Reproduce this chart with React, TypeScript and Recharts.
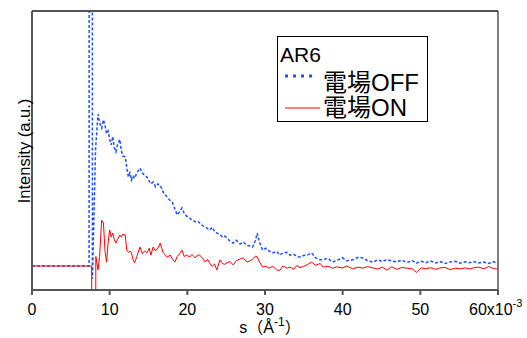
import { LineChart, Line, XAxis, YAxis, ReferenceLine, Legend } from 'recharts';

// s values (x10^-3 Å^-1), shared by both traces
const sValues = [
  0, 7.35, 7.4, 7.68, 7.72, 7.78, 8.18, 8.22,
  8.5, 8.7, 8.97, 9.2, 9.4, 9.6, 9.8, 10.0, 10.2, 10.4, 10.6, 10.8,
  11.0, 11.3, 11.5, 11.7, 12.0, 12.2, 12.4, 12.6, 12.8, 13.0,
  13.2, 13.5, 13.9, 14.2, 14.5, 14.8, 15.1, 15.3, 15.6, 15.9,
  16.2, 16.5, 16.9, 17.2, 17.4, 17.8, 18.1, 18.4, 18.7, 19.0,
  19.3, 19.6, 19.9, 20.3, 20.6, 21.0, 21.3, 21.6, 22.0, 22.3,
  22.6, 22.9, 23.2, 23.5, 23.8, 24.2, 24.5, 24.8, 25.1, 25.5,
  25.9, 26.3, 26.8, 27.2, 27.7, 28.1, 28.4, 28.8, 29.0, 29.3,
  29.7, 30.1, 30.5, 31.0, 31.5, 31.9, 32.3, 32.8, 33.2, 33.7,
  34.1, 34.5, 35.0, 35.5, 36.0, 36.5, 37.1, 37.5, 38.1, 38.7,
  39.2, 40.0, 40.5, 41.3, 42.0, 42.6, 43.2, 43.9, 44.5, 45.1,
  45.7, 46.3, 47.0, 47.6, 48.3, 49.0, 49.5, 50.1, 50.7, 51.3,
  52.0, 52.5, 53.2, 53.8, 54.5, 55.1, 55.8, 56.4, 56.8, 57.5,
  58.2, 58.8, 59.4, 60.0,
];

// 電場OFF trace (arbitrary units)
const offValues = [
  8.6, 8.6, 400, 400, 400, 4, 50, 52,
  63, 60, 58, 61, 59, 56, 57, 54, 52, 55, 51, 49.5,
  52, 54, 50, 48, 47.7, 44, 40.5, 42, 39.4, 41,
  40, 42, 43.7, 42, 41, 40.5, 39, 38, 38.7, 37,
  38, 37.6, 35, 34, 33.3, 32, 31.2, 29, 26.9, 28,
  29.4, 27.5, 26.5, 25.8, 25, 24.5, 24.7, 24, 23, 22.6,
  22, 21.5, 22.5, 21, 20.4, 20, 19, 19.3, 18.6, 17.5,
  16.8, 17.8, 16.5, 17.2, 16, 15.8, 15.4, 18, 20.4, 17,
  14.3, 15, 14, 13.3, 13.8, 12.5, 13.3, 13.5, 12.5, 12.8,
  12, 11.8, 12.4, 12.6, 13.3, 11.6, 10.8, 11, 11.3, 10,
  10.6, 11.5, 10.5, 10.8, 11.7, 11.5, 10.5, 10, 10.8, 10.2,
  10.9, 10.4, 10.1, 10.7, 9.9, 10.5, 9.6, 10.3, 9.8, 10.4,
  9.7, 10.2, 9.5, 10.0, 10.3, 9.6, 10.1, 9.8, 10.2, 9.7,
  10.0, 9.5, 10.1, 9.8,
];

// 電場ON trace (arbitrary units)
const onValues = [
  8.6, 8.6, 8.6, 8.6, -30, -30, -30, 12,
  7.2, 12, 25, 24, 14, 10, 17, 21.5, 19, 20.4, 18, 16.8,
  18, 19.7, 19, 20, 19.7, 14.3, 13.5, 14, 13.3, 11,
  9.7, 12, 15.4, 13, 14, 13.3, 15, 12.5, 15.4, 14,
  15, 16.8, 13.3, 12.5, 11.8, 12.5, 11, 10, 12, 13,
  14.3, 12, 12.5, 11.8, 12.8, 11.5, 12.5, 12.5, 11.2, 10,
  11, 9.5, 8.5, 9.3, 7.2, 10.8, 9.5, 9.2, 9.7, 10.2,
  9.0, 10.5, 11.1, 11.5, 10, 10.5, 11, 12.2, 11.8, 10,
  8.2, 8.5, 7.8, 8.5, 7.2, 7.0, 8.6, 7.8, 8.2, 7.5,
  8.8, 8, 8.5, 9.2, 10, 8.8, 9.5, 8.2, 8.5, 7.8,
  8.3, 7.9, 8.6, 7.6, 8.2, 7.8, 8.4, 7.9, 7.5, 8.2,
  7.1, 8.3, 7.4, 8.1, 7.8, 7.5, 6.3, 7.9, 7.6, 8.0,
  7.4, 7.9, 8.1, 7.3, 7.8, 7.6, 7.9, 7.5, 7.9, 8.2,
  7.6, 8.4, 7.7, 7.5,
];

const xTicks = [0, 10, 20, 30, 40, 50, 60];
const legendTitle = 'AR6';
const offName = '電場OFF';
const onName = '電場ON';

const data = sValues.map((s, i) => ({ s, off: offValues[i], on: onValues[i] }));

const FONT = '"Liberation Sans", "Noto Sans CJK JP", Arial, sans-serif';
const BLUE = '#1f4fff';
const RED = '#ff0000';
const AXIS = '#555';

function XTick(props: any) {
  const { x, y, payload } = props;
  const v = payload.value;
  if (v === 60) {
    // last label carries the x10^-3 multiplier
    return (
      <text x={x - 29} y={y + 20} textAnchor="start" fontSize={16} fontFamily={FONT} fill="#000">
        <tspan>60x10</tspan>
        <tspan dy={-8} fontSize={11}>-3</tspan>
      </text>
    );
  }
  return (
    <text x={x} y={y + 20} textAnchor="middle" fontSize={16} fontFamily={FONT} fill="#000">
      {v}
    </text>
  );
}

function LegendBox() {
  return (
    <svg width={151} height={86} style={{ display: 'block' }}>
      <rect x={0.5} y={0.5} width={150} height={85} fill="#fff" stroke="#000" strokeWidth={1} />
      <text x={3} y={26} fontSize={21} fontFamily={FONT} fill="#000">{legendTitle}</text>
      <line x1={8} y1={40} x2={40} y2={40} stroke={BLUE} strokeWidth={3} strokeDasharray="3 5" />
      <text x={46} y={55} fontSize={24} fontFamily={FONT} fill="#000">{offName}</text>
      <line x1={8} y1={72} x2={43} y2={72} stroke={RED} strokeWidth={1} />
      <text x={46} y={80} fontSize={24} fontFamily={FONT} fill="#000">{onName}</text>
    </svg>
  );
}

export default function App() {
  return (
    <div style={{ width: 527, height: 338, boxSizing: 'border-box', padding: '8px 0 0 8px', background: '#fff' }}>
      <style>{'body { margin: 0; }'}</style>
      <div style={{ width: 519, height: 330, position: 'relative' }}>
        <LineChart
          width={519}
          height={330}
          data={data}
          margin={{ top: 3, right: 29, left: 0, bottom: 8 }}
        >
          <XAxis
            dataKey="s"
            type="number"
            domain={[0, 60]}
            ticks={xTicks}
            allowDataOverflow
            stroke={AXIS}
            strokeWidth={2}
            tickSize={5}
            tickMargin={0}
            height={40}
            tick={<XTick />}
            label={{
              content: () => (
                <text x={262} y={325} textAnchor="middle" fontSize={16} fontFamily={FONT} fill="#000">
                  <tspan>s（Å</tspan>
                  <tspan dy={-7} fontSize={12}>-1</tspan>
                  <tspan dy={7}>）</tspan>
                </text>
              ),
            }}
          />
          <YAxis
            type="number"
            domain={[0, 100]}
            allowDataOverflow
            width={24}
            tick={false}
            tickLine={false}
            stroke={AXIS}
            strokeWidth={2}
            label={{
              content: () => (
                <text
                  x={22}
                  y={143}
                  transform="rotate(-90 22 143)"
                  textAnchor="middle"
                  fontSize={16.5}
                  fontFamily={FONT}
                  fill="#000"
                >
                  Intensity (a.u.)
                </text>
              ),
            }}
          />
          <ReferenceLine y={100} stroke={AXIS} strokeWidth={2} ifOverflow="visible" />
          <ReferenceLine x={60} stroke="#000" strokeWidth={1} ifOverflow="visible" />
          <Line
            dataKey="off"
            name={offName}
            stroke={BLUE}
            strokeWidth={1.5}
            strokeDasharray="3 2"
            dot={false}
            isAnimationActive={false}
          />
          <Line
            dataKey="on"
            name={onName}
            stroke={RED}
            strokeWidth={1}
            dot={false}
            isAnimationActive={false}
          />
          <Legend
            layout="horizontal"
            verticalAlign="middle"
            align="center"
            wrapperStyle={{ left: 269, top: 28, width: 151, height: 86 }}
            content={() => <LegendBox />}
          />
        </LineChart>
      </div>
    </div>
  );
}
